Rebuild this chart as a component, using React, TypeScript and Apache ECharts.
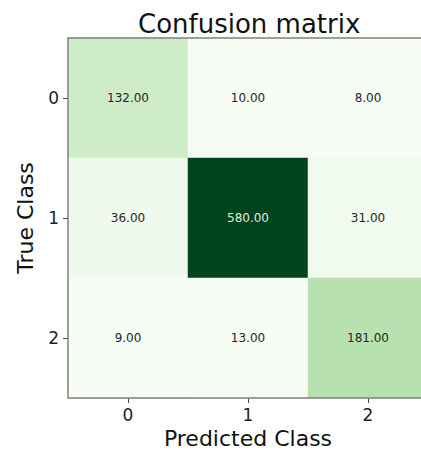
import React, { useEffect, useRef } from "react";
import * as echarts from "echarts";

const predictedClasses = ["0", "1", "2"];
const trueClasses = ["0", "1", "2"];
// rows = true class, columns = predicted class
const matrix: number[][] = [
  [132, 10, 8],
  [36, 580, 31],
  [9, 13, 181],
];
const greens = [
  "#f7fcf5", "#e5f5e0", "#c7e9c0", "#a1d99b", "#74c476",
  "#41ab5d", "#238b45", "#006d2c", "#00441b",
];

const FONT = "DejaVu Sans";

export default function App() {
  const ref = useRef<HTMLDivElement>(null);
  useEffect(() => {
    document.body.style.margin = "0";
    const chart = echarts.init(ref.current!, null, { renderer: "svg" });
    const flat: number[] = matrix.flat();
    const vmin = Math.min(...flat);
    const vmax = Math.max(...flat);
    const data: any[] = [];
    matrix.forEach((row, r) =>
      row.forEach((v, c) => {
        data.push({
          value: [c, r, v],
          label: { color: v > (vmin + vmax) / 2 ? "#dfe9e0" : "#262626" },
        });
      })
    );
    chart.setOption({
      animation: false,
      title: {
        text: "Confusion matrix",
        left: 133,
        top: 6,
        textStyle: { fontFamily: FONT, fontSize: 26, fontWeight: "normal", color: "#111" },
      },
      grid: {
        left: 68,
        top: 38,
        width: 360,
        height: 360,
        outerBoundsMode: "none",
        containLabel: false,
        show: true,
        z: 5,
        backgroundColor: "transparent",
        borderColor: "#7f7f7f",
        borderWidth: 1.5,
      },
      visualMap: {
        type: "continuous",
        show: false,
        min: vmin,
        max: vmax,
        dimension: 2,
        inRange: { color: greens },
      },
      xAxis: {
        type: "category",
        data: predictedClasses,
        name: "Predicted Class",
        nameLocation: "middle",
        nameGap: 27,
        nameTextStyle: { fontFamily: FONT, fontSize: 22, color: "#111" },
        splitArea: { show: false },
        axisLine: { show: false },
        axisTick: { show: true, alignWithLabel: true, length: 5, lineStyle: { color: "#444" } },
        axisLabel: { fontFamily: FONT, fontSize: 17, color: "#222", margin: 8 },
      },
      yAxis: {
        type: "category",
        data: trueClasses,
        inverse: true,
        name: "True Class",
        nameLocation: "middle",
        nameGap: 32,
        nameTextStyle: { fontFamily: FONT, fontSize: 22, color: "#111" },
        axisLine: { show: false },
        axisTick: { show: true, alignWithLabel: true, length: 5, lineStyle: { color: "#444" } },
        axisLabel: { fontFamily: FONT, fontSize: 17, color: "#222", margin: 9 },
      },
      series: [
        {
          type: "heatmap",
          data,
          label: {
            show: true,
            fontFamily: FONT,
            fontSize: 12,
            formatter: (p: any) => Number(p.value[2]).toFixed(2),
          },
          itemStyle: { borderWidth: 0 },
          emphasis: { disabled: true },
        },
      ],
    });
    return () => chart.dispose();
  }, []);
  return (
    <div
      style={{ position: "absolute", left: 0, top: 0, width: 421, height: 453, overflow: "hidden" }}
    >
      <div ref={ref} style={{ width: 460, height: 453 }} />
    </div>
  );
}
